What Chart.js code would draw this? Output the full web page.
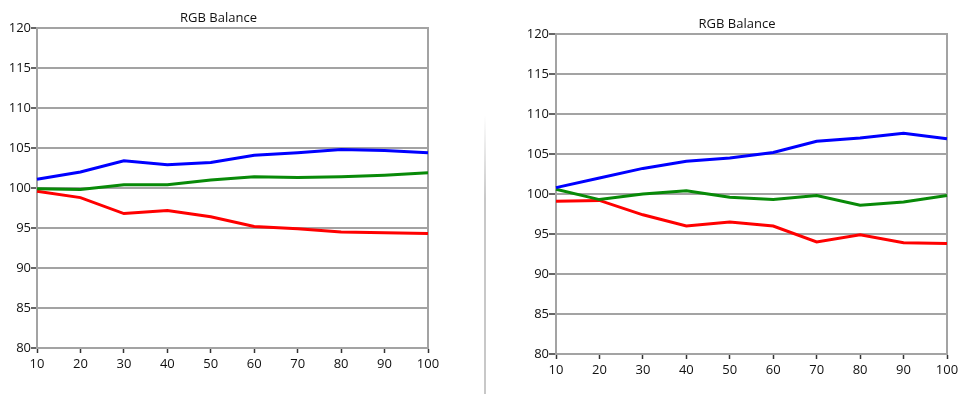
<!DOCTYPE html>
<html>
<head>
<meta charset="utf-8">
<script src="https://cdn.jsdelivr.net/npm/chart.js@4/dist/chart.umd.min.js"></script>
<style>
    body { margin: 0; background: #fff; width: 972px; height: 394px; overflow: hidden; position: relative; }
    canvas { position: absolute; top: 0; }
    #divider {
        position: absolute; left: 484px; top: 115px; width: 2px; height: 279px;
        background: linear-gradient(to bottom, rgba(200,200,200,0), #c8c8c8 30%, #c8c8c8);
    }
</style>
</head>
<body>
<canvas id="chart-left" width="463" height="394" style="left:-13px"></canvas>
<div id="divider"></div>
<canvas id="chart-right" width="444" height="394" style="left:515px"></canvas>
<script>
// RGB balance data
const levels = ['10', '20', '30', '40', '50', '60', '70', '80', '90', '100'];

const leftRed   = [99.6, 98.8, 96.8, 97.2, 96.4, 95.2, 94.9, 94.5, 94.4, 94.3];
const leftGreen = [99.9, 99.8, 100.4, 100.4, 101.0, 101.4, 101.3, 101.4, 101.6, 101.9];
const leftBlue  = [101.1, 102.0, 103.4, 102.9, 103.2, 104.1, 104.4, 104.8, 104.7, 104.4];

const rightRed   = [99.1, 99.2, 97.4, 96.0, 96.5, 96.0, 94.0, 94.9, 93.9, 93.8];
const rightGreen = [100.6, 99.3, 100.0, 100.4, 99.6, 99.3, 99.8, 98.6, 99.0, 99.8];
const rightBlue  = [100.8, 102.0, 103.2, 104.1, 104.5, 105.2, 106.6, 107.0, 107.6, 106.9];

const yTicks = { min: 80, max: 120, step: 5 };

const gridGray = '#a3a3a3';
const tickDark = '#333';

// outline the plot area (right edge has no axis of its own)
const frame = {
    id: 'frame',
    beforeDatasetsDraw(chart) {
        const { ctx, chartArea: a } = chart;
        ctx.save();
        ctx.strokeStyle = gridGray;
        ctx.lineWidth = 2;
        ctx.strokeRect(a.left, a.top, a.right - a.left, a.bottom - a.top);
        ctx.restore();
    }
};

function makeChart(id, red, green, blue, cfg) {
    const ctx = document.getElementById(id);
    return new Chart(ctx, {
        type: 'line',
        data: {
            labels: levels,
            datasets: [
                { label: 'Blue', data: blue, borderColor: '#0000ff' },
                { label: 'Green', data: green, borderColor: '#088a08' },
                { label: 'Red', data: red, borderColor: '#ff0000' }
            ]
        },
        options: {
            responsive: false,
            animation: false,
            layout: { padding: 0 },
            elements: {
                line: { borderWidth: 3, tension: 0 },
                point: { radius: 0 }
            },
            scales: {
                x: {
                    type: 'category',
                    grid: { drawOnChartArea: false, tickLength: 5, tickColor: tickDark, tickWidth: 1.5 },
                    border: { color: gridGray, width: 2 },
                    ticks: { color: '#111', padding: cfg.xPad, font: { family: 'Open Sans', size: 13 }, autoSkip: false, maxRotation: 0 },
                    afterFit(scale) {
                        scale.height = cfg.xHeight;
                        scale.paddingRight = cfg.rightPad;
                    }
                },
                y: {
                    min: yTicks.min,
                    max: yTicks.max,
                    grid: { color: gridGray, lineWidth: 2, tickLength: cfg.yTick, tickColor: tickDark, tickWidth: 1.5 },
                    border: { color: gridGray, width: 2 },
                    ticks: { stepSize: yTicks.step, color: '#111', padding: 0, font: { family: 'Open Sans', size: 13 } },
                    afterFit(scale) { scale.width = cfg.yWidth; }
                }
            },
            plugins: {
                legend: { display: false },
                tooltip: { enabled: false },
                title: {
                    display: true,
                    text: 'RGB Balance',
                    color: '#111',
                    font: { family: 'Open Sans', size: 13, weight: 'normal', lineHeight: 1.2 },
                    padding: { top: cfg.titleTop, bottom: cfg.titleBottom }
                }
            }
        },
        plugins: [frame]
    });
}

makeChart('chart-left', leftRed, leftGreen, leftBlue,
    { yWidth: 50, yTick: 6, xHeight: 46, xPad: 3, rightPad: 22, titleTop: 10, titleBottom: 2.4 });
makeChart('chart-right', rightRed, rightGreen, rightBlue,
    { yWidth: 41, yTick: 7, xHeight: 40, xPad: 3, rightPad: 12, titleTop: 16, titleBottom: 2.4 });
</script>
</body>
</html>
